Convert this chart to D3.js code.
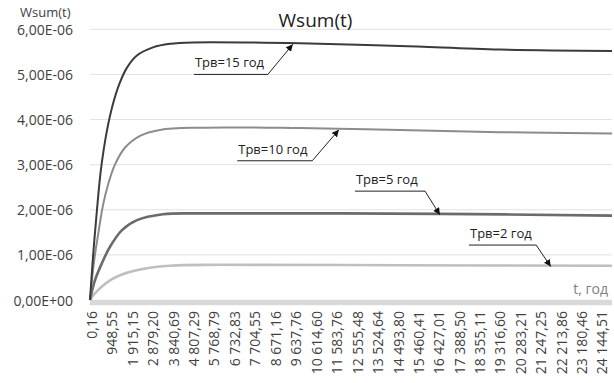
<!DOCTYPE html>
<html>
<head>
<meta charset="utf-8">
<script src="https://cdn.jsdelivr.net/npm/d3@7"></script>
<style>
  body { margin: 0; background: #fff; }
  svg { display: block; font-family: "Open Sans", sans-serif; }
</style>
</head>
<body>
<div id="chart"></div>
<script>
// Time points (years) and values
const t15 = [0, 150, 330, 520, 800, 1090, 1400, 1750, 2220, 2980, 3785, 4870, 9940, 14670, 19400, 24710];
const v15 = [0, 1.0e-6, 2.0e-6, 2.9e-6, 3.75e-6, 4.35e-6, 4.8e-6, 5.15e-6, 5.42e-6, 5.6e-6, 5.68e-6, 5.71e-6, 5.69e-6, 5.63e-6, 5.55e-6, 5.52e-6];

const t10 = [0, 190, 400, 615, 850, 1180, 1660, 2370, 3310, 5200, 9940, 14670, 19400, 24710];
const v10 = [0, 0.85e-6, 1.5e-6, 2.1e-6, 2.55e-6, 3.0e-6, 3.38e-6, 3.64e-6, 3.77e-6, 3.82e-6, 3.81e-6, 3.77e-6, 3.72e-6, 3.69e-6];

const t5 = [0, 237, 568, 946, 1514, 2224, 3454, 5205, 16560, 24710];
const v5 = [0, 0.44e-6, 0.82e-6, 1.18e-6, 1.55e-6, 1.77e-6, 1.90e-6, 1.92e-6, 1.91e-6, 1.87e-6];

const t2 = [0, 200, 568, 1000, 1420, 2510, 3785, 6150, 14670, 24710];
const v2 = [0, 0.13e-6, 0.30e-6, 0.45e-6, 0.55e-6, 0.69e-6, 0.76e-6, 0.78e-6, 0.77e-6, 0.76e-6];

const xTicks = [0.16, 948.55, 1915.15, 2879.20, 3840.69, 4807.29, 5768.79, 6732.83, 7704.55,
  8671.16, 9637.76, 10614.60, 11583.76, 12555.48, 13524.64, 14493.80, 15460.41, 16427.01,
  17388.50, 18355.11, 19316.60, 20283.21, 21247.25, 22213.86, 23180.46, 24144.51];
const yTicks = [0, 1e-6, 2e-6, 3e-6, 4e-6, 5e-6, 6e-6];

// annotation: label start/end time, leader level, arrow target time
const labels = ["Трв=15 год", "Трв=10 год", "Трв=5 год", "Трв=2 год"];
const labelT0 = [4920, 6970, 12540, 17940];
const labelT1 = [8420, 10520, 15860, 21120];
const labelV = [5.0e-6, 3.086e-6, 2.413e-6, 1.218e-6];
const arrowT = [9600, 11780, 16560, 21810];

const series = [
  { t: t2, v: v2, color: "#bfbfbf", w: 2.6 },
  { t: t5, v: v5, color: "#6b6b6b", w: 2.6 },
  { t: t10, v: v10, color: "#8c8c8c", w: 2 },
  { t: t15, v: v15, color: "#3b3b3b", w: 2 }
];
const annSeries = [series[3], series[2], series[1], series[0]];

const width = 614, height = 383;
const mLeft = 90, mRight = 612, mTop = 29.3, mBottom = 300;

const svg = d3.select("#chart").append("svg")
  .attr("width", width).attr("height", height);

const x = d3.scaleLinear().domain([0, 24710]).range([mLeft, mRight]);
const y = d3.scaleLinear().domain([0, 6e-6]).range([mBottom, mTop]);

// gridlines
svg.append("g")
  .selectAll("line")
  .data(yTicks.filter(d => d > 0))
  .join("line")
  .attr("x1", mLeft).attr("x2", mRight)
  .attr("y1", d => y(d)).attr("y2", d => y(d))
  .attr("stroke", "#e2e2e2").attr("stroke-width", 1);

// thick baseline
svg.append("line")
  .attr("x1", mLeft).attr("x2", mRight)
  .attr("y1", y(0) + 2.5).attr("y2", y(0) + 2.5)
  .attr("stroke", "#d9d9d9").attr("stroke-width", 5.5);

// y axis
const yFmt = d => d === 0 ? "0,00E+00" : (d / 1e-6).toFixed(2).replace(".", ",") + "E-06";
const yAxis = svg.append("g")
  .attr("transform", `translate(${mLeft},0)`)
  .call(d3.axisLeft(y).tickValues(yTicks).tickFormat(yFmt).tickSize(0).tickPadding(17));
yAxis.select(".domain").remove();
yAxis.selectAll("text")
  .attr("fill", "#404040")
  .attr("dy", "0.36em")
  .style("font-size", "14px")
  .style("font-family", "Open Sans, sans-serif");

// x axis
const ru = d3.formatLocale({ decimal: ",", thousands: " ", grouping: [3], currency: ["", ""] });
const xFmt = ru.format(",.2f");
const xAxis = svg.append("g")
  .attr("transform", `translate(0,${mBottom})`)
  .call(d3.axisBottom(x).tickValues(xTicks).tickFormat(xFmt).tickSize(0));
xAxis.select(".domain").remove();
xAxis.selectAll("text")
  .attr("transform", "rotate(-90)")
  .attr("x", -11)
  .attr("y", 2)
  .attr("dy", "0.35em")
  .style("text-anchor", "end")
  .attr("fill", "#404040")
  .style("font-size", "14px")
  .style("font-family", "Open Sans, sans-serif");

// lines
const line = d3.line()
  .x(d => x(d[0]))
  .y(d => y(d[1]))
  .curve(d3.curveCatmullRom.alpha(0.5));

series.forEach(s => {
  svg.append("path")
    .datum(s.t.map((tt, i) => [tt, s.v[i]]))
    .attr("fill", "none")
    .attr("stroke", s.color)
    .attr("stroke-width", s.w)
    .attr("stroke-linejoin", "round")
    .attr("d", line);
});

// arrow marker
svg.append("defs").append("marker")
  .attr("id", "arr")
  .attr("viewBox", "0 0 10 10")
  .attr("refX", 10).attr("refY", 5)
  .attr("markerWidth", 7).attr("markerHeight", 7)
  .attr("markerUnits", "userSpaceOnUse")
  .attr("orient", "auto")
  .append("path")
  .attr("d", "M0,0L10,5L0,10z")
  .attr("fill", "#111");

// value on a series at time tt (linear between read points)
function valueAt(s, tt) {
  const i = d3.bisectLeft(s.t, tt);
  if (i <= 0) return s.v[0];
  if (i >= s.t.length) return s.v[s.v.length - 1];
  const f = (tt - s.t[i - 1]) / (s.t[i] - s.t[i - 1]);
  return s.v[i - 1] + f * (s.v[i] - s.v[i - 1]);
}

// annotations
labels.forEach((txt, i) => {
  const g = svg.append("g");
  const ly = y(labelV[i]);
  g.append("line")
    .attr("x1", x(labelT0[i])).attr("x2", x(labelT1[i]))
    .attr("y1", ly).attr("y2", ly)
    .attr("stroke", "#222").attr("stroke-width", 1);
  g.append("line")
    .attr("x1", x(labelT1[i])).attr("y1", ly)
    .attr("x2", x(arrowT[i])).attr("y2", y(valueAt(annSeries[i], arrowT[i])) + 1)
    .attr("stroke", "#222").attr("stroke-width", 1)
    .attr("marker-end", "url(#arr)");
  g.append("text")
    .attr("x", x(labelT0[i]) + 1)
    .attr("y", ly - 7)
    .attr("fill", "#222")
    .style("font-size", "13px")
    .text(txt);
});

// titles
svg.append("text")
  .attr("x", 315.5).attr("y", 27)
  .attr("text-anchor", "middle")
  .attr("fill", "#222")
  .style("font-size", "19px")
  .text("Wsum(t)");

svg.append("text")
  .attr("x", 20).attr("y", 17)
  .attr("fill", "#404040")
  .style("font-size", "13px")
  .text("Wsum(t)");

svg.append("text")
  .attr("x", 608).attr("y", 294)
  .attr("text-anchor", "end")
  .attr("fill", "#808080")
  .style("font-size", "14px")
  .text("t, год");
</script>
</body>
</html>
